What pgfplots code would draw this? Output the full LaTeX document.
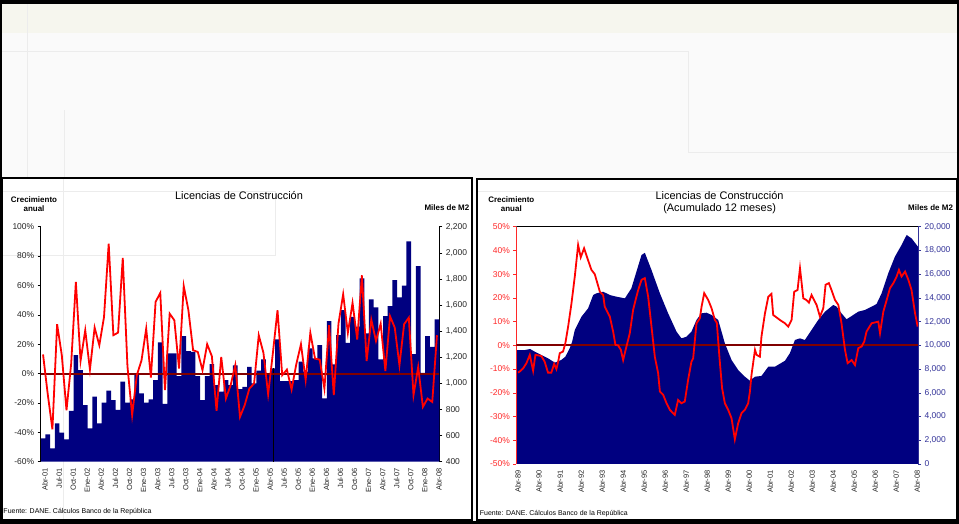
\documentclass[border=0pt]{standalone}
\usepackage{fontspec}
\setmainfont{Liberation Sans}
\usepackage{pgfplots}
\pgfplotsset{compat=1.18}
\definecolor{navyb}{RGB}{0,0,128}
\definecolor{zeroline}{RGB}{128,0,0}
\definecolor{lred}{RGB}{255,0,0}
\definecolor{tickred}{RGB}{255,40,40}
\definecolor{tickblue}{RGB}{51,51,153}
\definecolor{cream}{RGB}{246,246,238}
\definecolor{bg}{RGB}{250,250,250}
\definecolor{faint}{RGB}{236,236,236}
\begin{document}
\begin{tikzpicture}[x=1bp,y=1bp]
\useasboundingbox (0,0) rectangle (959,524);
\fill[bg] (0,0) rectangle (959,524);
\fill[cream] (0,491) rectangle (959,520);
\draw[faint, line width=1bp] (0,472) -- (688,472) -- (688,371) -- (959,371);
\draw[faint, line width=1bp] (27.5,0) -- (27.5,520);
\draw[faint, line width=1bp] (64,0) -- (64,414);
% panels
\fill[white] (2,4) rectangle (472,346);
\fill[white] (477,4) rectangle (957,345);
\draw[faint, line width=1bp] (63.3,4) -- (63.3,346);
\draw[faint, line width=1bp] (2,332.3) -- (275,332.3) -- (275,268) -- (2,268);
\draw[faint, line width=1bp] (477,332.3) -- (957,332.3);
\draw[black, line width=1.4bp] (2,4) rectangle (472,346);
\draw[black, line width=1.4bp] (477,4) rectangle (957,345);
% outer frame
\fill[black] (0,520) rectangle (959,524);
\fill[black] (0,0) rectangle (2,524);
\fill[black] (957,0) rectangle (959,524);
\fill[black] (0,0) rectangle (959,2.5);

% ---------------- texts left panel
\node[font=\bfseries\fontsize{8}{9}\selectfont, align=center] at (34,320) {Crecimiento\\anual};
\node[font=\fontsize{11}{12}\selectfont] at (239,328) {Licencias de Construcción};
\node[font=\bfseries\fontsize{8}{9}\selectfont, anchor=west, inner sep=0pt] at (424.3,316.3) {Miles de M2};
\node[font=\fontsize{7}{8}\selectfont, anchor=west, inner sep=0pt] at (3.3,12.3) {Fuente: DANE. Cálculos Banco de la República};
% ---------------- texts right panel
\node[font=\bfseries\fontsize{8}{9}\selectfont, align=center] at (511.3,320) {Crecimiento\\anual};
\node[font=\fontsize{11}{12}\selectfont, align=center] at (719.6,321) {Licencias de Construcción\\(Acumulado 12 meses)};
\node[font=\bfseries\fontsize{8}{9}\selectfont, anchor=west, inner sep=0pt] at (908,316.3) {Miles de M2};
\node[font=\fontsize{7}{8}\selectfont, anchor=west, inner sep=0pt] at (479.7,10.7) {Fuente: DANE. Cálculos Banco de la República};

% ================= LEFT PANEL: bars (right axis)
\begin{axis}[at={(40.7bp,62.3bp)}, anchor=south west, scale only axis,
  width=398.6bp, height=235bp,
  xmin=0.5, xmax=85.5, ymin=400, ymax=2200,
  axis x line=none, axis y line*=right,
  ytick={400,600,...,2200},
  yticklabels={400,600,800,{1,000},{1,200},{1,400},{1,600},{1,800},{2,000},{2,200}},
  scaled y ticks=false,
  tick align=outside, major tick length=3bp,
  y axis line style={black, line width=0.8bp},
  ytick style={black, line width=0.6bp},
  yticklabel style={font=\fontsize{8.5}{9}\selectfont, text=black!85},
  clip=true]
\addplot[ybar, bar width=1, fill=navyb, draw=none] coordinates {
(1,579) (2,609) (3,502) (4,694) (5,622) (6,571) (7,790) (8,1217) (9,1102) (10,834)
(11,655) (12,898) (13,694) (14,852) (15,944) (16,872) (17,796) (18,1013) (19,852) (20,877)
(21,1076) (22,923) (23,852) (24,877) (25,1025) (26,1314) (27,842) (28,1230) (29,1230) (30,1056)
(31,1362) (32,1247) (33,1242) (34,1056) (35,872) (36,1056) (37,1148) (38,987) (39,936) (40,1025)
(41,987) (42,1138) (43,956) (44,974) (45,1127) (46,1000) (47,1097) (48,1184) (49,1076) (50,1115)
(51,1337) (52,1018) (53,1018) (54,1018) (55,1025) (56,1166) (57,1090) (58,1268) (59,1191) (60,1293)
(61,885) (62,1477) (63,1145) (64,1370) (65,1561) (66,1311) (67,1510) (68,1434) (69,1804) (70,1383)
(71,1643) (72,1582) (73,1184) (74,1515) (75,1592) (76,1791) (77,1658) (78,1748) (79,2087) (80,1224)
(81,1898) (82,1081) (83,1362) (84,1280) (85,1490)};
\addplot[black, line width=1.5bp] coordinates {(50.1,400) (50.1,1115)};
\end{axis}

% ================= LEFT PANEL: growth line (left axis)
\begin{axis}[at={(40.7bp,62.3bp)}, anchor=south west, scale only axis,
  width=398.6bp, height=235bp,
  xmin=0.5, xmax=85.5, ymin=-60, ymax=100,
  axis y line*=left, axis x line*=bottom,
  x axis line style={draw=none},
  xtick={1,4,...,85},
  xticklabels={Abr-01,Jul-01,Oct-01,Ene-02,Abr-02,Jul-02,Oct-02,Ene-03,Abr-03,Jul-03,Oct-03,Ene-04,Abr-04,Jul-04,Oct-04,Ene-05,Abr-05,Jul-05,Oct-05,Ene-06,Abr-06,Jul-06,Oct-06,Ene-07,Abr-07,Jul-07,Oct-07,Ene-08,Abr-08},
  xtick style={draw=none},
  xticklabel style={rotate=90, anchor=east, font=\fontsize{7.5}{8}\selectfont, text=black!85, yshift=-2bp},
  ytick={-60,-40,...,100},
  yticklabels={-60\%,-40\%,-20\%,0\%,20\%,40\%,60\%,80\%,100\%},
  tick align=outside, major tick length=3bp,
  y axis line style={black, line width=0.8bp},
  ytick style={black, line width=0.6bp},
  yticklabel style={font=\fontsize{8.5}{9}\selectfont, text=black!85}]
\addplot[zeroline, line width=2bp] coordinates {(0.5,0) (85.5,0)};
\addplot[lred, line width=1.8bp] coordinates {
(1,13) (2,-14) (3,-38) (4,33.6) (5,12.5) (6,-25) (7,6.8) (8,62.4) (9,8.6) (10,29.5)
(11,2.7) (12,31.3) (13,19.3) (14,38.5) (15,88.4) (16,26.1) (17,27.9) (18,78.7) (19,5) (20,-28.3)
(21,-1.1) (22,9) (23,30.6) (24,-2.7) (25,48.8) (26,54.9) (27,-11.3) (28,40.8) (29,36.3) (30,3.4)
(31,59.6) (32,43.1) (33,15.9) (34,14.7) (35,2.3) (36,20) (37,11.8) (38,-25.4) (39,11.3) (40,-17)
(41,-7.9) (42,5.7) (43,-29.5) (44,-21.5) (45,-10.2) (46,-6.8) (47,26.1) (48,14.1) (49,-14.1) (50,13.6)
(51,43.1) (52,-1.1) (53,2.7) (54,-10.9) (55,6.3) (56,20) (57,-4.3) (58,27.7) (59,10.2) (60,9.5)
(61,-10.2) (62,32.9) (63,-14.7) (64,34) (65,54) (66,27.7) (67,48.1) (68,23.1) (69,66.9) (70,8.6)
(71,36.7) (72,22.2) (73,34) (74,1.8) (75,39) (76,31.3) (77,5.7) (78,33.6) (79,38.1) (80,-14.7)
(81,4.5) (82,-22.7) (83,-17) (84,-19.3) (85,26.1)};
\end{axis}

% ================= RIGHT PANEL: area (right axis)
\begin{axis}[at={(516.3bp,60bp)}, anchor=south west, scale only axis,
  width=401.7bp, height=237.3bp,
  xmin=-1, xmax=228.4, ymin=0, ymax=20000,
  axis x line=none, axis y line*=right,
  ytick={0,2000,...,20000},
  yticklabels={0,{2,000},{4,000},{6,000},{8,000},{10,000},{12,000},{14,000},{16,000},{18,000},{20,000}},
  scaled y ticks=false,
  tick align=outside, major tick length=3bp,
  y axis line style={tickblue, line width=1bp},
  ytick style={tickblue, line width=0.6bp},
  yticklabel style={font=\fontsize{8.5}{9}\selectfont, text=tickblue}]
\addplot[fill=navyb, draw=none] coordinates {
(-1,9600) (3.8,9600) (6.9,9690) (9.5,9470) (13.3,9190) (17.1,8910) (21,8540) (24.7,8770)
(27,9040) (29.5,9750) (30.9,10310) (32.4,11290) (36.2,12410) (40,13120) (42.9,14240) (44.7,14380)
(48.6,14520) (52.4,14240) (56.2,14100) (61,13960) (64.7,14800) (67.6,16210) (70.5,17610) (72.4,17800)
(76.2,16350) (81,14380) (85.7,12700) (90.5,11150) (93.3,10590) (96.2,10730) (99,11150) (101.9,12140)
(104.7,12700) (107.6,12750) (110.5,12560) (114.3,12140) (118.1,10170) (121.9,8770) (125.7,7920)
(129.5,7360) (132.4,7020) (135.3,7360) (139,7420) (142.9,8200) (146.7,8200) (152.4,8700)
(155.2,9330) (158.1,10450) (161,10590) (163.8,10450) (167.6,11290) (171.4,12140) (175.3,12840)
(180,13400) (181.9,13260) (184.7,12700) (187.6,12200) (190.5,12470) (194.3,12840) (198.1,12980)
(201.9,13260) (204.7,13480) (207.6,14380) (211.4,16070) (215.2,17470) (219,18460) (221.9,19300)
(224.7,19020) (227.6,18460) (228.4,18300)} \closedcycle;
\end{axis}

% ================= RIGHT PANEL: growth line (left axis)
\begin{axis}[at={(516.3bp,60bp)}, anchor=south west, scale only axis,
  width=401.7bp, height=237.3bp,
  xmin=-1, xmax=228.4, ymin=-50, ymax=50,
  axis y line*=left, axis x line*=bottom,
  x axis line style={draw=none},
  xtick={0,12,...,228},
  xticklabels={Abr-89,Abr-90,Abr-91,Abr-92,Abr-93,Abr-94,Abr-95,Abr-96,Abr-97,Abr-98,Abr-99,Abr-00,Abr-01,Abr-02,Abr-03,Abr-04,Abr-05,Abr-06,Abr-07,Abr-08},
  xtick style={draw=none},
  xticklabel style={rotate=90, anchor=east, font=\fontsize{7.5}{8}\selectfont, text=black!85},
  ytick={-50,-40,...,50},
  yticklabels={-50\%,-40\%,-30\%,-20\%,-10\%,0\%,10\%,20\%,30\%,40\%,50\%},
  tick align=outside, major tick length=3bp,
  y axis line style={tickred, line width=1bp},
  ytick style={tickred, line width=0.6bp},
  yticklabel style={font=\fontsize{8.5}{9}\selectfont, text=tickred}]
\draw[black, line width=0.8bp] (rel axis cs:0,1) -- (rel axis cs:1,1);
\addplot[zeroline, line width=2bp] coordinates {(-1,0) (228.4,0)};
\addplot[lred, line width=1.8bp] coordinates {
(0,-11.5) (1,-11) (2.9,-9.7) (4.8,-7.5) (6.7,-4) (8.6,-10.7) (9.9,-4) (13.3,-4.5) (15.2,-6.9)
(17.1,-11.5) (19,-11.5) (20.6,-7.8) (21.9,-10) (22.9,-6.9) (23.8,-3.3) (25.7,-2.6) (27,0.9)
(28.6,7.9) (30.5,17.7) (32.4,29) (34.3,42.3) (35.8,37.1) (37.7,40.9) (39.6,36.7) (41.9,31.8)
(43.8,30) (46.7,22.6) (48.6,21.2) (49.5,16.3) (52.4,12.1) (54.3,5.8) (55.6,0.2) (57.1,0)
(58.7,-1.9) (60,-6.2) (61.9,-0.5) (63.8,5.1) (65.7,14.9) (67.6,20.5) (68.6,23.3) (70.5,27.6)
(72.4,28.3) (74.3,20.5) (76.2,7.9) (78.1,-4.8) (80,-11.8) (81,-19.5) (82.9,-20.9) (84.8,-24.4)
(86.7,-27.2) (89.5,-29.3) (91.4,-23) (93.3,-24.4) (95.2,-23.7) (97.1,-14.6) (99,-6.9) (100,-5.4)
(101.9,9.3) (103.8,11.4) (104.8,16.3) (106.3,22) (108.6,19.1) (110.5,15.6) (112.4,10.7) (113.5,9.5)
(115,-5) (116.5,-18) (118.1,-24.4) (120,-27.2) (121.9,-30.7) (123.8,-39.6) (125.7,-32.8) (127.6,-28.6)
(129.5,-27.2) (131.4,-24.4) (132.4,-19.5) (133.3,-12.5) (135.3,-1.9) (136.2,-4) (138.1,-4.8) (139,3.7)
(141,13.5) (142.9,20.5) (144.7,21.7) (145.7,12.8) (149.5,10.7) (152.4,9.3) (154.3,7.9) (156.2,10.7)
(157.7,22.6) (159.6,23.3) (161,32.5) (162.9,19.8) (164.7,19.1) (166.1,18) (167.6,21.2) (170.5,17)
(172.4,12.1) (174.3,15.6) (175.6,25.5) (177.5,26.2) (179,23.3) (181,19.1) (182.9,17) (184.7,9.3)
(186.7,-1.9) (188.2,-7.5) (190.5,-6.2) (192.4,-8.3) (194.3,-1.2) (196.2,-0.5) (197.7,1.6) (199,5.8)
(201.9,9.3) (205.7,10) (206.7,5.1) (208.6,14.2) (210.5,19.1) (212.4,24.1) (214.3,26.2) (216.2,29)
(217.5,31.8) (219,29) (221,31.1) (222.9,27.6) (224.7,23.3) (226.7,13.5) (228.2,7.9)};
\end{axis}
\end{tikzpicture}
\end{document}
